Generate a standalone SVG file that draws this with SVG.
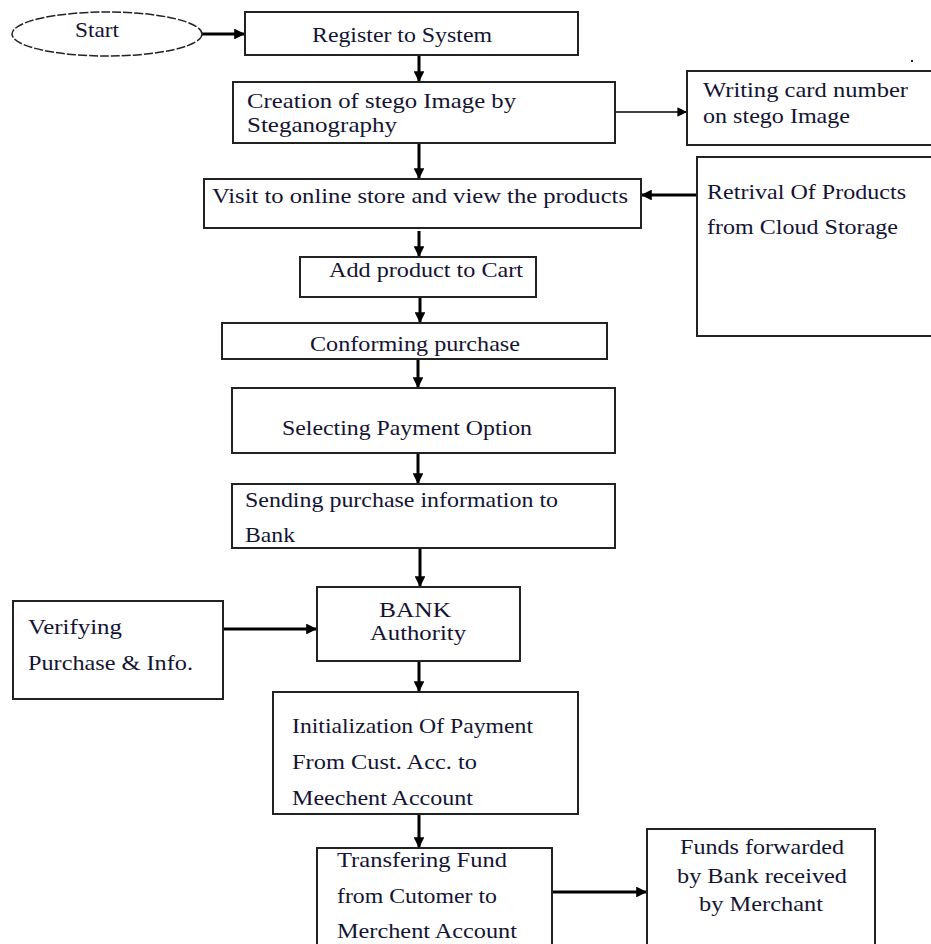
<svg xmlns="http://www.w3.org/2000/svg" width="931" height="944" viewBox="0 0 931 944">
<style>
.box{fill:#fff;stroke:#222;stroke-width:2}
.t{font-family:"Liberation Serif","Times New Roman",serif;font-size:21px;fill:#141432}
.c{fill:none;stroke:#000;stroke-width:3}
.thin{fill:none;stroke:#000;stroke-width:1.6}
</style>
<defs>
<marker id="ah" viewBox="0 0 10 10" refX="10" refY="5" markerWidth="3.6" markerHeight="3.6" orient="auto" markerUnits="strokeWidth">
<path d="M0,0 L10,5 L0,10 z" fill="#000"/>
</marker>
<marker id="ahs" viewBox="0 0 10 10" refX="10" refY="5" markerWidth="6" markerHeight="6" orient="auto" markerUnits="strokeWidth">
<path d="M0,0 L10,5 L0,10 z" fill="#000"/>
</marker>
</defs>
<rect width="931" height="944" fill="#fff"/>
<g id="connectors">
<line class="c" x1="202" y1="34" x2="245" y2="34" marker-end="url(#ah)"/>
<line class="c" x1="419" y1="55" x2="419" y2="82" marker-end="url(#ah)"/>
<line class="thin" x1="615" y1="112" x2="687" y2="112" marker-end="url(#ahs)"/>
<line class="c" x1="419" y1="143" x2="419" y2="179" marker-end="url(#ah)"/>
<line class="c" x1="697" y1="195" x2="641" y2="195" marker-end="url(#ah)"/>
<line class="c" x1="419" y1="231" x2="419" y2="257" marker-end="url(#ah)"/>
<line class="c" x1="420" y1="297" x2="420" y2="323" marker-end="url(#ah)"/>
<line class="c" x1="418" y1="359" x2="418" y2="388" marker-end="url(#ah)"/>
<line class="c" x1="418" y1="453" x2="418" y2="484" marker-end="url(#ah)"/>
<line class="c" x1="420" y1="548" x2="420" y2="587" marker-end="url(#ah)"/>
<line class="c" x1="223" y1="629" x2="317" y2="629" marker-end="url(#ah)"/>
<line class="c" x1="419" y1="661" x2="419" y2="692" marker-end="url(#ah)"/>
<line class="c" x1="419" y1="814" x2="419" y2="848" marker-end="url(#ah)"/>
<line class="c" x1="552" y1="892" x2="647" y2="892" marker-end="url(#ah)"/>
</g>
<g id="start">
<ellipse cx="107" cy="34" rx="95" ry="22" fill="#fff" stroke="#222" stroke-width="1.5" stroke-dasharray="9 2"/>
<text class="t" x="75" y="37" textLength="44" lengthAdjust="spacingAndGlyphs">Start</text>
</g>
<g id="register">
<rect class="box" x="245" y="12" width="333" height="43"/>
<text class="t" x="312" y="42" textLength="180" lengthAdjust="spacingAndGlyphs">Register to System</text>
</g>
<g id="creation">
<rect class="box" x="233" y="82" width="382" height="61"/>
<text class="t" x="247" y="108" textLength="269" lengthAdjust="spacingAndGlyphs">Creation of stego Image by</text>
<text class="t" x="247" y="132" textLength="150" lengthAdjust="spacingAndGlyphs">Steganography</text>
</g>
<g id="writing">
<rect class="box" x="687" y="71" width="250" height="74"/>
<text class="t" x="703" y="97" textLength="205" lengthAdjust="spacingAndGlyphs">Writing card number</text>
<text class="t" x="703" y="123" textLength="147" lengthAdjust="spacingAndGlyphs">on stego Image</text>
</g>
<g id="visit">
<rect class="box" x="204" y="179" width="437" height="49"/>
<text class="t" x="212" y="203" textLength="416" lengthAdjust="spacingAndGlyphs">Visit to online store and view the products</text>
</g>
<g id="retrival">
<rect class="box" x="697" y="157" width="240" height="179"/>
<text class="t" x="707" y="199" textLength="199" lengthAdjust="spacingAndGlyphs">Retrival Of Products</text>
<text class="t" x="707" y="234" textLength="191" lengthAdjust="spacingAndGlyphs">from Cloud Storage</text>
</g>
<g id="add">
<rect class="box" x="300" y="257" width="236" height="40"/>
<text class="t" x="329" y="277" textLength="194" lengthAdjust="spacingAndGlyphs">Add product to Cart</text>
</g>
<g id="conforming">
<rect class="box" x="222" y="323" width="385" height="36"/>
<text class="t" x="310" y="351" textLength="210" lengthAdjust="spacingAndGlyphs">Conforming purchase</text>
</g>
<g id="selecting">
<rect class="box" x="232" y="388" width="383" height="65"/>
<text class="t" x="282" y="435" textLength="250" lengthAdjust="spacingAndGlyphs">Selecting Payment Option</text>
</g>
<g id="sending">
<rect class="box" x="232" y="484" width="383" height="64"/>
<text class="t" x="245" y="507" textLength="313" lengthAdjust="spacingAndGlyphs">Sending purchase information to</text>
<text class="t" x="245" y="542" textLength="50" lengthAdjust="spacingAndGlyphs">Bank</text>
</g>
<g id="verifying">
<rect class="box" x="13" y="601" width="210" height="98"/>
<text class="t" x="28" y="634" textLength="94" lengthAdjust="spacingAndGlyphs">Verifying</text>
<text class="t" x="28" y="670" textLength="165" lengthAdjust="spacingAndGlyphs">Purchase &amp; Info.</text>
</g>
<g id="bank">
<rect class="box" x="317" y="587" width="203" height="74"/>
<text class="t" x="379" y="617" textLength="72" lengthAdjust="spacingAndGlyphs">BANK</text>
<text class="t" x="370" y="640" textLength="96" lengthAdjust="spacingAndGlyphs">Authority</text>
</g>
<g id="init">
<rect class="box" x="273" y="692" width="305" height="122"/>
<text class="t" x="292" y="733" textLength="241" lengthAdjust="spacingAndGlyphs">Initialization Of Payment</text>
<text class="t" x="292" y="769" textLength="185" lengthAdjust="spacingAndGlyphs">From Cust. Acc. to</text>
<text class="t" x="292" y="805" textLength="181" lengthAdjust="spacingAndGlyphs">Meechent Account</text>
</g>
<g id="transfer">
<rect class="box" x="317" y="848" width="235" height="104"/>
<text class="t" x="337" y="867" textLength="170" lengthAdjust="spacingAndGlyphs">Transfering Fund</text>
<text class="t" x="337" y="903" textLength="160" lengthAdjust="spacingAndGlyphs">from Cutomer to</text>
<text class="t" x="337" y="938" textLength="180" lengthAdjust="spacingAndGlyphs">Merchent Account</text>
</g>
<g id="funds">
<rect class="box" x="647" y="829" width="228" height="123"/>
<text class="t" x="680" y="854" textLength="164" lengthAdjust="spacingAndGlyphs">Funds forwarded</text>
<text class="t" x="677" y="883" textLength="170" lengthAdjust="spacingAndGlyphs">by Bank received</text>
<text class="t" x="699" y="911" textLength="124" lengthAdjust="spacingAndGlyphs">by Merchant</text>
</g>
<rect x="911" y="60" width="2" height="2" fill="#222"/>
</svg>
